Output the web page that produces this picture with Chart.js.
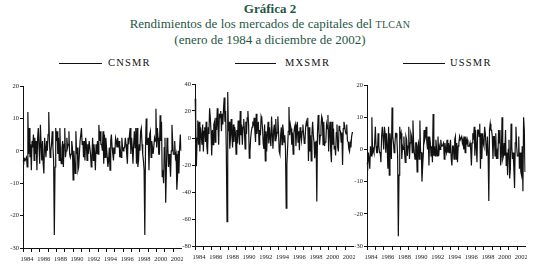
<!DOCTYPE html>
<html>
<head>
<meta charset="utf-8">
<script src="https://cdn.jsdelivr.net/npm/chart.js@4/dist/chart.umd.min.js"></script>
<style>
  html, body { margin: 0; padding: 0; background: #fff; }
  body { width: 540px; height: 271px; position: relative; overflow: hidden; font-family: "Liberation Serif", serif; }
  .title { position: absolute; left: 0; width: 540px; text-align: center; color: #1f5746; white-space: nowrap; }
  .t1 { top: 1px; font-size: 13px; font-weight: bold; }
  .t2 { top: 16px; font-size: 13px; }
  .t3 { top: 32px; font-size: 13px; }
  .sc { font-size: 10px; letter-spacing: 0.3px; }
  .leg { position: absolute; height: 12px; font-size: 10.5px; letter-spacing: 1.2px; color: #111; white-space: nowrap; }
  .leg .ln { position: absolute; top: 6px; height: 0; border-top: 1.3px solid #111; }
  .leg .tx { position: absolute; top: 0; }
  .box { position: absolute; }
</style>
</head>
<body>
<div class="title t1">Gráfica 2</div>
<div class="title t2">Rendimientos de los mercados de capitales del <span class="sc">TLCAN</span></div>
<div class="title t3">(enero de 1984 a diciembre de 2002)</div>

<div class="leg" style="left:59px;top:57px;"><div class="ln" style="left:0;width:43px;"></div><div class="tx" style="left:49px;">CNSMR</div></div>
<div class="leg" style="left:235px;top:57px;"><div class="ln" style="left:0;width:41px;"></div><div class="tx" style="left:50px;">MXSMR</div></div>
<div class="leg" style="left:403px;top:57px;"><div class="ln" style="left:0;width:42px;"></div><div class="tx" style="left:47px;">USSMR</div></div>

<div class="box" style="left:0px;top:80px;"><canvas id="c1" width="183" height="184"></canvas></div>
<div class="box" style="left:170px;top:78px;"><canvas id="c2" width="185" height="184"></canvas></div>
<div class="box" style="left:344px;top:79px;"><canvas id="c3" width="183" height="183"></canvas></div>

<script>
// ---- data (monthly returns, %) ----
const years = [1984,1985,1986,1987,1988,1989,1990,1991,1992,1993,1994,1995,1996,1997,1998,1999,2000,2001,2002];

const cnsmr = [
  -3,-3.5,-2.5,-3,-3,-2,-5,12,-1,7,-2,2,
  -6,3,1,5,-3,4,-1,3,-6,4,7,1,
  -4,8,2,-3,3,-4,-7,4,1,-2,3,0,
  5,12,3,-2,0,2,6,1,-3,-26,-5,7,
  3,6,-1,4,-3,7,-2,-4,1,3,-5,2,
  7,-2,0,4,1,2,6,-1,-2,-1,3,1,
  -9,0,-3,-7,6,-1,1,-6,-5,-1,3,3,
  7,2,3,-2,3,-3,4,2,-3,2,-1,3,
  3,-1,-5,-2,4,-3,2,-1,-6,2,-1,3,
  -1,8,3,6,2,2,0,6,-4,5,-2,4,
  1,-2,-5,-3,1,-6,3,5,1,-1,-3,1,
  -1,4,3,1,4,1,3,-2,0,-2,4,1,
  0,1,1,4,2,-1,-4,4,2,5,7,-1,
  4,1,-4,2,6,1,7,-4,7,-5,-3,2,
  0,6,7,2,-1,-3,-6,-26,1,10,2,2,
  4,-6,5,6,-2,3,1,-1,-1,4,3,13,
  1,7,4,-1,-1,11,3,9,-8,-6,-10,1,
  4,-16,-6,4,2,-5,-1,-4,-8,0,8,3,
  -1,-1,3,-2,-1,-12,-8,0,-7,1,5,0
];

const mxsmr = [
  29,10,-21,0,13,-5,12,-10,8,2,-5,10,
  -10,5,8,-3,12,-6,-12,8,3,22,15,5,
  -13,6,-5,10,12,-3,15,6,22,10,-5,18,
  15,20,5,18,10,22,30,12,20,-10,-62,34,
  5,12,-8,0,14,2,-7,10,-3,8,4,-12,
  6,-4,13,3,-5,20,2,10,-5,8,14,6,
  -8,12,3,15,20,10,-15,-10,0,5,8,11,
  10,15,5,-3,18,3,8,12,-5,6,2,16,
  14,7,-4,-8,10,-17,5,-10,3,12,-4,8,
  0,-6,16,3,-8,6,10,-2,14,1,4,16,
  5,-10,-12,2,8,-5,10,5,-3,2,-8,-52,
  -20,-8,5,23,2,10,7,-5,4,-12,3,8,
  10,-6,4,12,-3,5,-9,8,2,-2,5,10,
  3,-4,-2,8,12,9,15,-17,8,-10,2,-17,
  3,12,2,-3,-15,-8,-2,-47,4,17,6,-5,
  2,8,16,14,-5,12,-6,-3,-2,10,7,17,
  -10,5,12,-10,-18,12,-5,7,-8,-6,-13,4,
  10,-7,-10,9,6,5,-3,4,-20,7,12,9,
  5,3,10,-2,-3,-8,-10,-4,-7,1,4,4
];

const ussmr = [
  -4,-5,-1,-3,-6,1,-2,10,-1,0,-1,2,
  7,1,-1,-1,5,1,-1,-1,-4,4,7,4,
  0,7,5,-1,5,1,-6,7,-8,5,2,-3,
  13,4,2,-1,1,5,5,3,-2,-27,-8,7,
  4,5,-3,1,0,4,-1,-4,4,3,-2,1,
  7,-3,2,5,4,-1,9,2,-1,-3,2,2,
  -7,1,2,-3,9,-1,-1,-10,-5,-1,6,3,
  4,7,2,0,4,-5,4,2,-2,1,-4,11,
  -2,1,-2,3,0,-2,4,-2,1,0,3,1,
  1,1,2,-3,2,0,-1,3,-1,2,-1,1,
  3,-3,-5,1,1,-3,3,4,-3,2,-4,1,
  2,4,3,3,4,2,3,0,4,-1,4,2,
  3,1,1,1,2,0,-5,2,5,3,7,-2,
  6,1,-4,6,6,4,8,-6,5,-3,5,2,
  1,7,5,1,-2,4,-1,-16,6,8,6,6,
  4,-3,4,4,-2,5,-3,-1,-3,6,2,6,
  -5,-2,10,-3,-2,2,-2,6,-5,-1,-8,0,
  3,-9,-6,8,1,-3,-1,-6,-12,2,7,1,
  -2,-2,4,-6,-1,-7,-8,1,-13,10,6,-7
];

const seriesNames = ["CNSMR", "MXSMR", "USSMR"];
const yRanges = [[-30, 20, 10], [-80, 40, 20], [-30, 20, 10]];

// month category labels built from the years list
const months = years.flatMap(y => Array.from({length: 12}, (_, m) => y + "-" + String(m + 1).padStart(2, "0")));

const tickFont = { family: "'Liberation Serif', 'Times New Roman', serif", size: 6.5 };

function makeChart(id, name, values, range, yWidth) {
  new Chart(document.getElementById(id), {
    type: "line",
    data: {
      labels: months,
      datasets: [{
        label: name,
        data: values,
        borderColor: "#111",
        borderWidth: 1.2,
        pointRadius: 0,
        tension: 0,
        fill: false
      }]
    },
    options: {
      responsive: false,
      animation: false,
      devicePixelRatio: 1,
      layout: { padding: { top: 6, right: 2, left: 0, bottom: 0 } },
      plugins: { legend: { display: false }, tooltip: { enabled: false } },
      scales: {
        x: {
          type: "category",
          offset: false,
          border: { display: true, color: "#111", width: 1 },
          grid: { display: true, drawOnChartArea: false, drawTicks: true, tickLength: 4, color: "#111", lineWidth: 1 },
          afterBuildTicks: (axis) => { axis.ticks = axis.ticks.filter(t => t.value % 12 === 0); },
          afterFit: (axis) => { axis.height = 16; },
          ticks: {
            autoSkip: false, maxRotation: 0, minRotation: 0,
            padding: 3, labelOffset: 4, color: "#222", font: tickFont,
            callback: function (value) {
              const lab = this.getLabelForValue(value);
              const yr = parseInt(lab.slice(0, 4), 10);
              return (yr % 2 === 0) ? String(yr) : "";
            }
          }
        },
        y: {
          min: range[0], max: range[1],
          border: { display: true, color: "#111", width: 1 },
          grid: { display: true, drawOnChartArea: false, drawTicks: true, tickLength: 3, color: "#111", lineWidth: 1 },
          afterFit: (axis) => { axis.width = yWidth; },
          ticks: { stepSize: range[2], padding: 1, color: "#222", font: tickFont }
        }
      }
    }
  });
}

makeChart("c1", seriesNames[0], cnsmr, yRanges[0], 23);
makeChart("c2", seriesNames[1], mxsmr, yRanges[1], 25);
makeChart("c3", seriesNames[2], ussmr, yRanges[2], 23);
</script>
</body>
</html>
